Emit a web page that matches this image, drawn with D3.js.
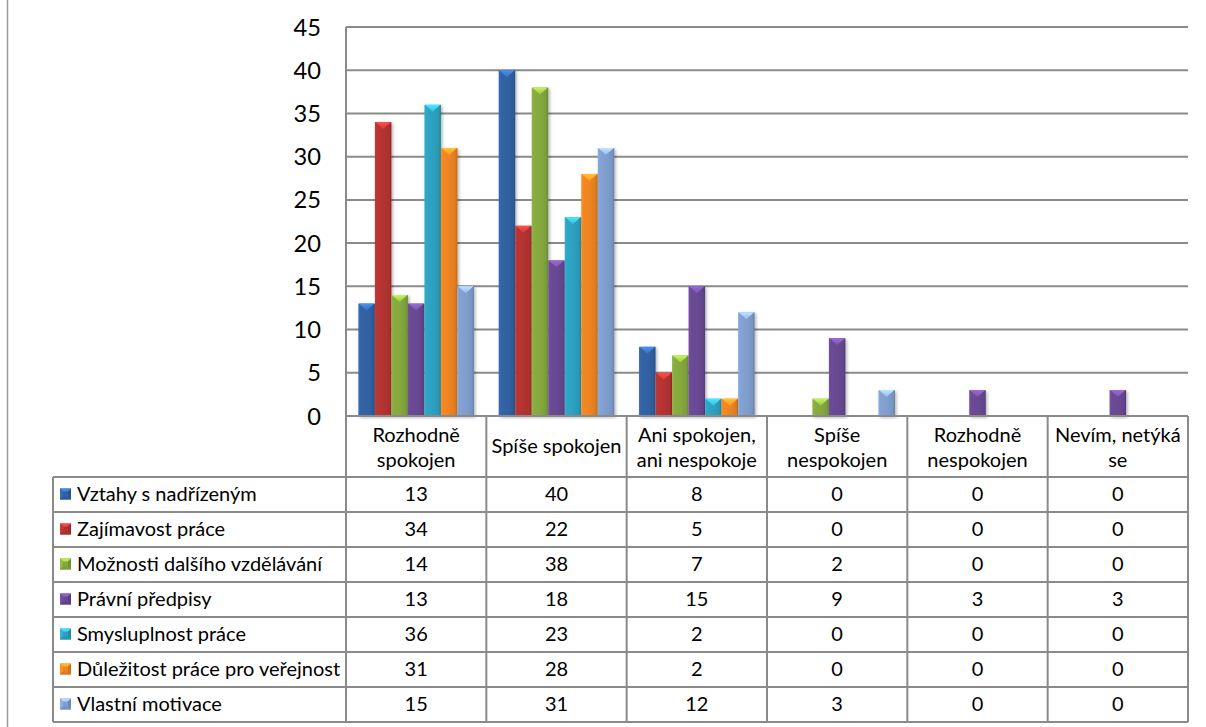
<!DOCTYPE html>
<html>
<head>
<meta charset="utf-8">
<script src="https://cdn.jsdelivr.net/npm/d3@7"></script>
<style>
  html, body { margin: 0; padding: 0; background: #fff; }
  svg { display: block; }
</style>
</head>
<body>
<svg id="chart" width="1206" height="727"></svg>
<script>
// ---------- DATA ----------
const categories = ["Rozhodně spokojen", "Spíše spokojen", "Ani spokojen, ani nespokoje", "Spíše nespokojen", "Rozhodně nespokojen", "Nevím, netýká se"];
const categoryLines = [["Rozhodně", "spokojen"], ["Spíše spokojen"], ["Ani spokojen,", "ani nespokoje"], ["Spíše", "nespokojen"], ["Rozhodně", "nespokojen"], ["Nevím, netýká", "se"]];
const seriesNames = ["Vztahy s nadřízeným", "Zajímavost práce", "Možnosti dalšího vzdělávání", "Právní předpisy", "Smysluplnost práce", "Důležitost práce pro veřejnost", "Vlastní motivace"];
const vztahy = [13, 40, 8, 0, 0, 0];
const zajimavost = [34, 22, 5, 0, 0, 0];
const moznosti = [14, 38, 7, 2, 0, 0];
const pravni = [13, 18, 15, 9, 3, 3];
const smysluplnost = [36, 23, 2, 0, 0, 0];
const dulezitost = [31, 28, 2, 0, 0, 0];
const vlastni = [15, 31, 12, 3, 0, 0];
const seriesValues = [vztahy, zajimavost, moznosti, pravni, smysluplnost, dulezitost, vlastni];
const yTicks = [0, 5, 10, 15, 20, 25, 30, 35, 40, 45];
const colors = ["#3161A2", "#B33331", "#84A73E", "#684892", "#2DA0BE", "#EC8321", "#7F9DCD"];

// ---------- LAYOUT ----------
const svg = d3.select("#chart");
const plotLeft = 346, plotRight = 1188, plotTop = 27, zeroY = 416;
const headerBottom = 477, rowH = 35, legendLeft = 53;
const lineColor = "#8a8a8a";
const FONT = "Lato, 'Open Sans', sans-serif";

function fitSize(sample, target) {
  const t = svg.append("text").attr("font-family", FONT).attr("font-size", 100).text(sample);
  const w = t.node().getComputedTextLength();
  t.remove();
  return 100 * target / w;
}
const tableFont = fitSize("Spíše spokojen", 130);
const axisFont = fitSize("45", 27.5);

const y = d3.scaleLinear().domain([0, 45]).range([zeroY, plotTop]);
const x0 = d3.scaleBand().domain(categories).range([plotLeft, plotRight]).padding(0);
const bw = x0.bandwidth();
const pad = bw * 0.75 / 8.5;
const x1 = d3.scaleBand().domain(seriesNames).range([pad, bw - pad]).padding(0);

// defs
const defs = svg.append("defs");
const f = defs.append("filter").attr("id", "shadow").attr("x", "-30%").attr("y", "-10%").attr("width", "160%").attr("height", "130%");
f.append("feDropShadow").attr("dx", 1.5).attr("dy", 1.5).attr("stdDeviation", 1.6).attr("flood-color", "#000").attr("flood-opacity", 0.3);
colors.forEach((c, i) => {
  const g = defs.append("linearGradient").attr("id", "g" + i).attr("x1", "0").attr("x2", "1").attr("y1", "0").attr("y2", "0");
  const base = d3.color(c);
  g.append("stop").attr("offset", "0%").attr("stop-color", base.brighter(0.25));
  g.append("stop").attr("offset", "12%").attr("stop-color", base.brighter(0.1));
  g.append("stop").attr("offset", "55%").attr("stop-color", base);
  g.append("stop").attr("offset", "85%").attr("stop-color", base.darker(0.15));
  g.append("stop").attr("offset", "100%").attr("stop-color", base.darker(0.55));
  const t = defs.append("linearGradient").attr("id", "t" + i).attr("x1", "0").attr("x2", "0").attr("y1", "0").attr("y2", "1");
  t.append("stop").attr("offset", "0%").attr("stop-color", base.brighter(1.1));
  t.append("stop").attr("offset", "100%").attr("stop-color", base.brighter(0.45));
});

// outer left border
svg.append("line").attr("x1", 7.5).attr("x2", 7.5).attr("y1", 0).attr("y2", 727)
  .attr("stroke", "#9a9a9a").attr("stroke-width", 1.5);

// gridlines
svg.append("g").selectAll("line").data(yTicks.filter(d => d > 0)).join("line")
  .attr("x1", plotLeft).attr("x2", plotRight)
  .attr("y1", d => y(d)).attr("y2", d => y(d))
  .attr("stroke", lineColor).attr("stroke-width", 2);

// y axis labels
svg.append("g").selectAll("text").data(yTicks).join("text")
  .attr("x", 321).attr("y", d => y(d)).attr("dy", "0.36em")
  .attr("text-anchor", "end").attr("font-family", FONT).attr("font-size", axisFont)
  .attr("fill", "#000").text(d => d);

// bars
const barData = [];
seriesValues.forEach((vals, si) => vals.forEach((v, ci) => {
  if (v > 0) barData.push({ s: si, c: ci, v });
}));
const bars = svg.append("g").selectAll("g").data(barData).join("g").attr("filter", "url(#shadow)");
bars.append("rect")
  .attr("x", d => x0(categories[d.c]) + x1(seriesNames[d.s]))
  .attr("y", d => y(d.v))
  .attr("width", x1.bandwidth())
  .attr("height", d => zeroY - y(d.v))
  .attr("fill", d => `url(#g${d.s})`);
bars.append("polygon")
  .attr("points", d => {
    const xl = x0(categories[d.c]) + x1(seriesNames[d.s]);
    const w = x1.bandwidth();
    const yt = y(d.v);
    const dep = Math.min(w * 0.42, zeroY - yt);
    return [[xl + 0.5, yt], [xl + w - 0.5, yt], [xl + w / 2, yt + dep]].map(p => p.join(",")).join(" ");
  })
  .attr("fill", d => `url(#t${d.s})`);

// table lines
const tl = svg.append("g").attr("stroke", lineColor).attr("stroke-width", 2);
const rowYs = d3.range(seriesNames.length + 1).map(i => headerBottom + i * rowH);
tl.append("line").attr("x1", plotLeft).attr("x2", plotRight).attr("y1", zeroY).attr("y2", zeroY);
rowYs.forEach(yy => tl.append("line").attr("x1", legendLeft).attr("x2", plotRight).attr("y1", yy).attr("y2", yy));
const tableBottom = rowYs[rowYs.length - 1];
tl.append("line").attr("x1", legendLeft).attr("x2", legendLeft).attr("y1", headerBottom).attr("y2", tableBottom);
tl.append("line").attr("x1", plotLeft).attr("x2", plotLeft).attr("y1", plotTop).attr("y2", tableBottom);
categories.forEach(c => {
  const xx = x0(c) + bw;
  tl.append("line").attr("x1", xx).attr("x2", xx).attr("y1", zeroY).attr("y2", tableBottom);
});

// header labels
const hdr = svg.append("g").attr("font-family", FONT).attr("font-size", tableFont).attr("fill", "#000").attr("text-anchor", "middle");
categories.forEach((c, i) => {
  const lines = categoryLines[i];
  const cx = x0(c) + bw / 2;
  const t = hdr.append("text").attr("x", cx);
  if (lines.length === 1) {
    t.append("tspan").attr("x", cx).attr("y", 453).text(lines[0]);
  } else {
    t.append("tspan").attr("x", cx).attr("y", 442).text(lines[0]);
    t.append("tspan").attr("x", cx).attr("y", 467).text(lines[1]);
  }
});

// legend rows + values
const rows = svg.append("g").attr("font-family", FONT).attr("font-size", tableFont).attr("fill", "#000");
seriesNames.forEach((name, si) => {
  const top = rowYs[si];
  const cy = top + rowH / 2;
  const s = 11, mx = 60, my = cy - s / 2 - 0.5;
  const base = d3.color(colors[si]);
  const mg = rows.append("g");
  mg.append("rect").attr("x", mx).attr("y", my).attr("width", s).attr("height", s).attr("fill", base);
  const c = [mx + s / 2, my + s / 2];
  mg.append("polygon").attr("points", [[mx, my], [mx + s, my], c].map(p => p.join(",")).join(" ")).attr("fill", base.brighter(0.9));
  mg.append("polygon").attr("points", [[mx, my], [mx, my + s], c].map(p => p.join(",")).join(" ")).attr("fill", base.brighter(0.3));
  mg.append("polygon").attr("points", [[mx + s, my], [mx + s, my + s], c].map(p => p.join(",")).join(" ")).attr("fill", base.darker(0.4));
  mg.append("polygon").attr("points", [[mx, my + s], [mx + s, my + s], c].map(p => p.join(",")).join(" ")).attr("fill", base.darker(0.2));
  mg.append("rect").attr("x", mx + 3).attr("y", my + 3).attr("width", s - 6).attr("height", s - 6).attr("fill", base);
  rows.append("text").attr("x", 77).attr("y", cy).attr("dy", "0.35em").text(name);
  seriesValues[si].forEach((v, ci) => {
    rows.append("text").attr("x", x0(categories[ci]) + bw / 2).attr("y", cy).attr("dy", "0.35em")
      .attr("text-anchor", "middle").text(v);
  });
});
</script>
</body>
</html>
